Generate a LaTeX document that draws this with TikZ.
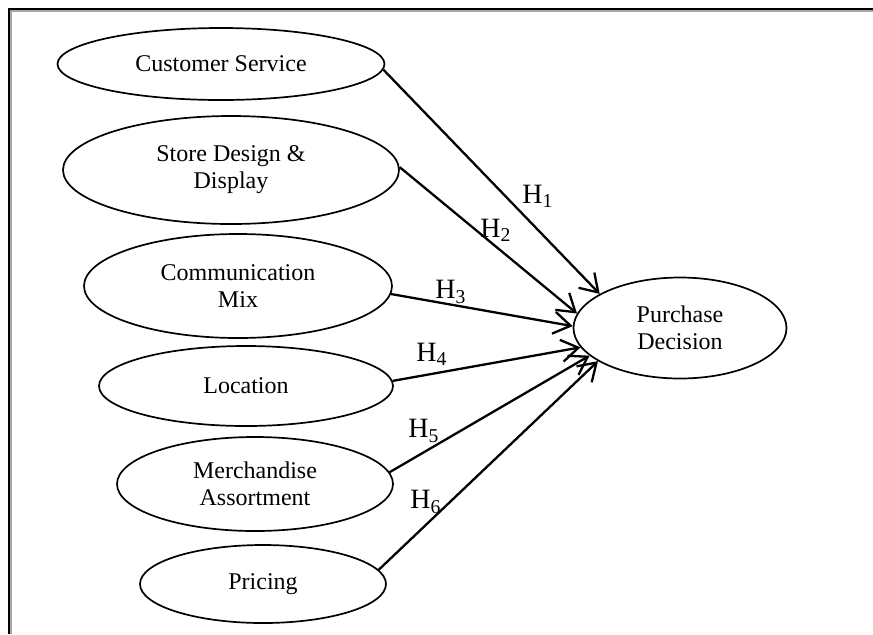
\documentclass[tikz,border=0pt]{standalone}
\usepackage{fontspec}
\setmainfont{Liberation Serif}
\usetikzlibrary{shapes.geometric,arrows.meta}
\begin{document}
\begin{tikzpicture}[x=0.5pt,y=-0.5pt,
  factor/.style={ellipse,draw,line width=0.85pt,inner sep=0pt,align=center,
    font=\fontsize{12}{13.5}\selectfont},
  link/.style={line width=1.15pt,-{Straight Barb[length=8.5pt,width=11pt,line width=1.15pt]}},
  hyp/.style={font=\fontsize{14}{16}\selectfont,inner sep=0pt}]
\useasboundingbox (0,0) rectangle (873,634);
\fill[white] (0,0) rectangle (873,634);
% frame edges
\draw[line width=1pt,black] (8.5,634) -- (8.5,8.5) -- (873,8.5);
\draw[line width=0.9pt,gray!70] (10.6,634) -- (10.6,10.6) -- (873,10.6);

% determinants
\node[factor,minimum width=327pt*0.5,minimum height=72pt*0.5] (cs) at (221,64) {Customer Service};
\node[factor,minimum width=336pt*0.5,minimum height=108pt*0.5] (sd) at (231,170) {Store Design \&\\Display};
\node[factor,minimum width=308pt*0.5,minimum height=104pt*0.5] (cm) at (238,286) {Communication\\Mix};
\node[factor,minimum width=294pt*0.5,minimum height=80pt*0.5] (lo) at (246,386) {Location};
\node[factor,minimum width=276pt*0.5,minimum height=94pt*0.5] (ma) at (255,484) {Merchandise\\Assortment};
\node[factor,minimum width=246pt*0.5,minimum height=78pt*0.5] (pr) at (263,584) {Pricing};

% outcome
\node[factor,minimum width=213pt*0.5,minimum height=101pt*0.5] (pd) at (680,328) {Purchase\\Decision};

% hypothesised paths
\draw[link] (cs.-2) -- (pd.157);
\draw[link] (sd.1) -- (pd.172);
\draw[link] (cm.-3.3) -- (pd.179.5);
\draw[link] (lo.2.7) -- (pd.-169.5);
\draw[link] (ma.5.4) -- (pd.-163);
\draw[link] (pr.7.6) -- (pd.-158.5);

% path labels
\node[hyp] (h1) at (538,196) {H\textsubscript{1}};
\node[hyp] (h2) at (496,230) {H\textsubscript{2}};
\node[hyp] (h3) at (451,292) {H\textsubscript{3}};
\node[hyp] (h4) at (432,354) {H\textsubscript{4}};
\node[hyp] (h5) at (424,431) {H\textsubscript{5}};
\node[hyp] (h6) at (426,502) {H\textsubscript{6}};
\end{tikzpicture}
\end{document}
